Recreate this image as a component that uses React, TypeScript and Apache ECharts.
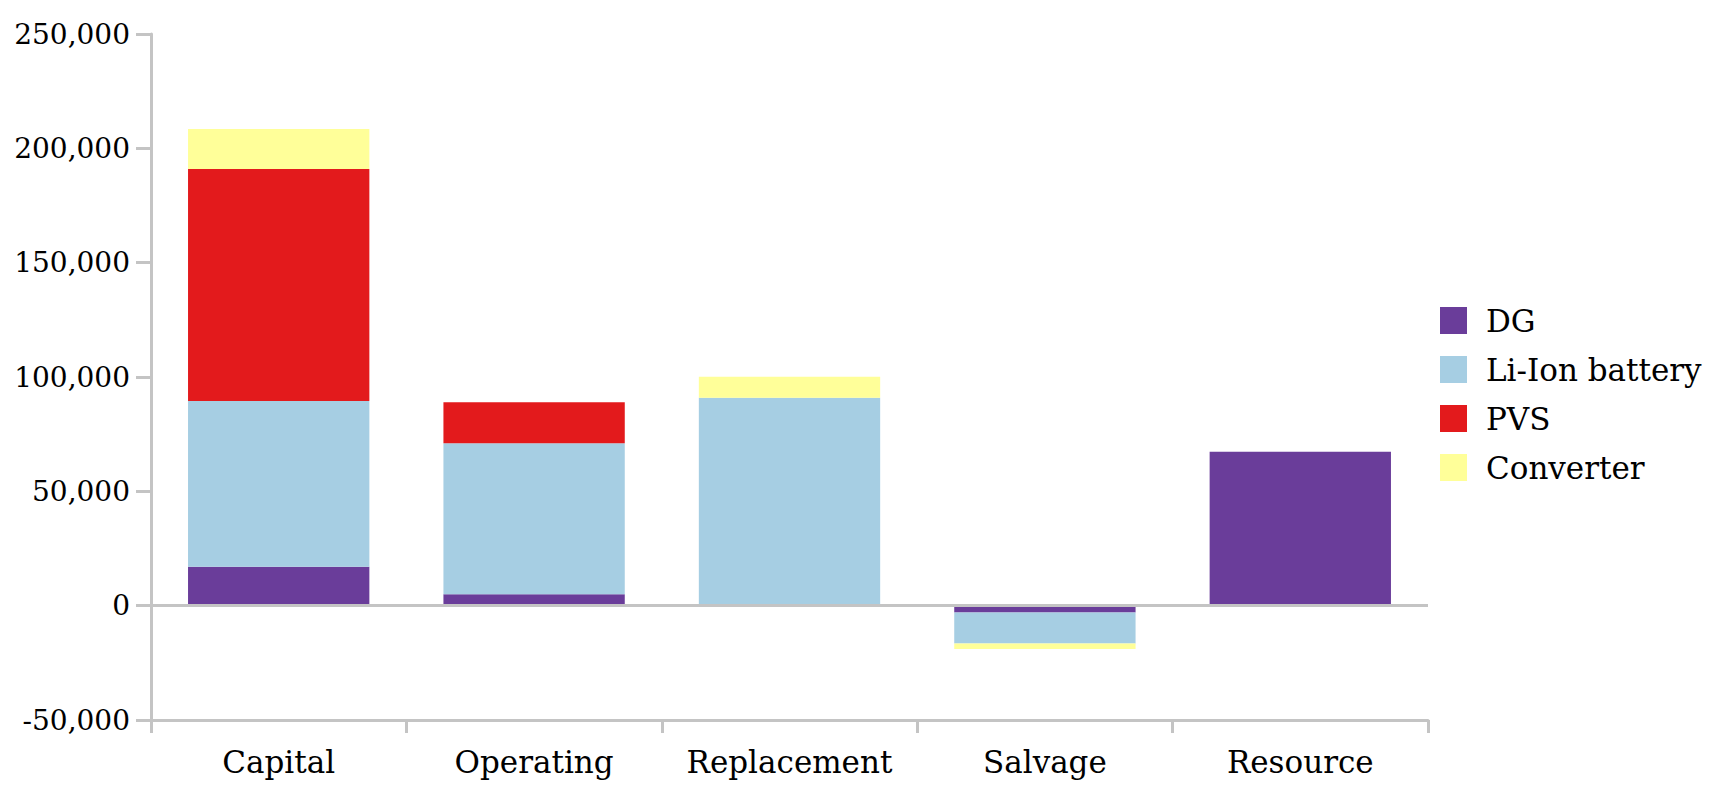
import React, { useEffect, useRef } from "react";
import * as echarts from "echarts";

const categories = ["Capital", "Operating", "Replacement", "Salvage", "Resource"];
const seriesNames = ["DG", "Li-Ion battery", "PVS", "Converter"];
const dgValues = [17000, 5000, 0, -3000, 67300];
const liIonValues = [72500, 66000, 90900, -13500, 0];
const pvsValues = [101500, 18000, 0, 0, 0];
const converterValues = [17500, 0, 9200, -2500, 0];
const colors = ["#6a3d9a", "#a6cee3", "#e31a1c", "#ffff99"];
const yTicks = { min: -50000, max: 250000, interval: 50000 };

const FONT = "DejaVu Serif";
const AXIS_COLOR = "#c4c4c4";

export default function App() {
  const ref = useRef<HTMLDivElement>(null);
  useEffect(() => {
    if (!ref.current) return;
    const chart = echarts.init(ref.current, undefined, { renderer: "svg" });
    const valuesList = [dgValues, liIonValues, pvsValues, converterValues];
    const series = seriesNames.map((name, i) => {
      const s: any = {
        name,
        type: "bar",
        stack: "total",
        barWidth: "71%",
        data: valuesList[i],
        itemStyle: { color: colors[i] },
      };
      if (i === 0) {
        s.markLine = {
          silent: true,
          symbol: "none",
          label: { show: false },
          lineStyle: { color: AXIS_COLOR, width: 3, type: "solid" },
          data: [{ yAxis: 0 }],
          z: 10,
        };
      }
      return s;
    });
    chart.setOption({
      animation: false,
      backgroundColor: "#ffffff",
      textStyle: { fontFamily: FONT },
      grid: { left: 151, right: 290, top: 34, bottom: 83 },
      legend: {
        orient: "vertical",
        left: 1435,
        top: 300,
        icon: "rect",
        itemWidth: 27,
        itemHeight: 27,
        itemGap: 18,
        data: seriesNames,
        textStyle: {
          fontFamily: FONT,
          fontSize: 31,
          color: "#000",
          padding: [0, 0, 0, 14],
          lineHeight: 27,
        },
      },
      xAxis: {
        type: "category",
        data: categories,
        axisLine: { show: true, lineStyle: { color: AXIS_COLOR, width: 3 }, onZero: false },
        axisTick: { show: true, interval: 0, length: 13, lineStyle: { color: AXIS_COLOR, width: 3 } },
        axisLabel: { interval: 0, fontFamily: FONT, fontSize: 31, color: "#000", margin: 26 },
        splitLine: { show: false },
      },
      yAxis: {
        type: "value",
        min: yTicks.min,
        max: yTicks.max,
        interval: yTicks.interval,
        axisLine: { show: true, lineStyle: { color: AXIS_COLOR, width: 3 } },
        axisTick: { show: true, length: 15, lineStyle: { color: AXIS_COLOR, width: 3 } },
        axisLabel: {
          fontFamily: FONT,
          fontSize: 28,
          color: "#000",
          margin: 21,
          formatter: (v: number) => v.toLocaleString("en-US"),
        },
        splitLine: { show: false },
      },
      series,
    });
    return () => chart.dispose();
  }, []);
  return (
    <div
      ref={ref}
      style={{ position: "absolute", left: 0, top: 0, width: 1718, height: 803 }}
    />
  );
}
